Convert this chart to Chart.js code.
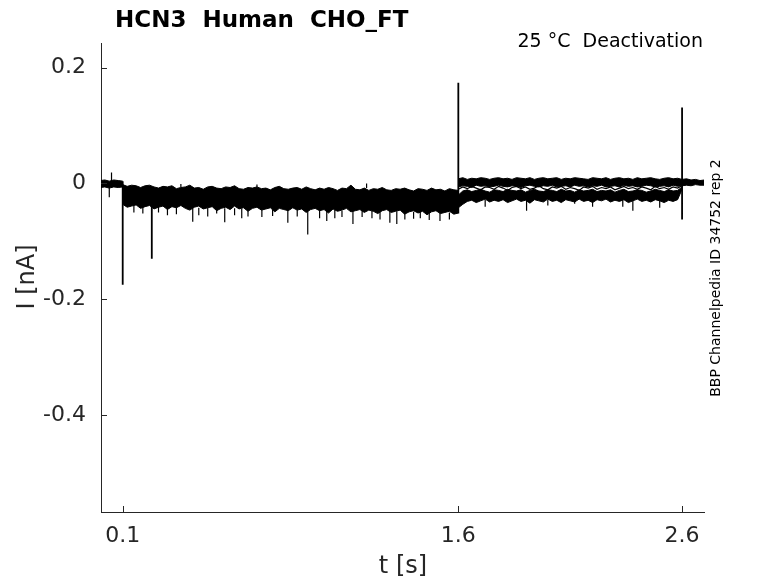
<!DOCTYPE html>
<html>
<head>
<meta charset="utf-8">
<script src="https://cdn.jsdelivr.net/npm/chart.js@4.4.1/dist/chart.umd.min.js"></script>
<style>
html,body{margin:0;padding:0;background:#fff;}
canvas{display:block;}
</style>
</head>
<body>
<canvas id="c" width="778" height="583"></canvas>
<script>
// ---- tick labels ----
const xTicks = [0.1, 1.6, 2.6];
const yTicks = [0.2, 0, -0.2, -0.4];

// ---- sampled envelopes of the overlaid sweeps (nA), sample step 0.02 s ----
const sampleStep = 0.02;

// holding period 0 .. 0.1 s
const preStart = 0.0;
const preTop = [0.005, 0.006, 0.004, 0.006, 0.005, 0.004];
const preBot = [-0.007, -0.006, -0.008, -0.006, -0.007, -0.006];

// test pulse 0.1 .. 1.6 s
const midStart = 0.10;
const midTop = [
 -0.002,-0.005,-0.003,-0.004,-0.007,-0.004,-0.003,-0.006,-0.008,-0.005,
 -0.006,-0.004,-0.009,-0.007,-0.006,-0.003,-0.008,-0.007,-0.010,-0.006,
 -0.005,-0.008,-0.009,-0.006,-0.007,-0.004,-0.009,-0.010,-0.007,-0.008,
 -0.006,-0.009,-0.008,-0.011,-0.007,-0.005,-0.009,-0.010,-0.008,-0.007,
 -0.010,-0.006,-0.009,-0.011,-0.008,-0.010,-0.007,-0.009,-0.012,-0.008,
 -0.009,-0.003,-0.010,-0.011,-0.008,-0.012,-0.009,-0.010,-0.007,-0.011,
 -0.012,-0.009,-0.010,-0.008,-0.011,-0.013,-0.009,-0.010,-0.012,-0.008,
 -0.011,-0.010,-0.013,-0.009,-0.011,-0.012];
const midBot = [
 -0.036,-0.041,-0.039,-0.037,-0.043,-0.040,-0.038,-0.044,-0.041,-0.039,
 -0.045,-0.040,-0.042,-0.038,-0.043,-0.046,-0.041,-0.039,-0.044,-0.042,
 -0.040,-0.047,-0.043,-0.041,-0.045,-0.039,-0.044,-0.042,-0.048,-0.043,
 -0.041,-0.046,-0.044,-0.042,-0.049,-0.043,-0.045,-0.047,-0.042,-0.046,
 -0.044,-0.050,-0.045,-0.043,-0.047,-0.045,-0.051,-0.044,-0.048,-0.046,
 -0.043,-0.049,-0.047,-0.045,-0.050,-0.046,-0.048,-0.052,-0.047,-0.045,
 -0.050,-0.048,-0.046,-0.053,-0.049,-0.047,-0.051,-0.048,-0.054,-0.049,
 -0.047,-0.052,-0.050,-0.048,-0.053,-0.051];

// tail 1.6 .. 2.7 s, upper group of sweeps
const upStart = 1.60;
const upTop = [
 0.008,0.010,0.007,0.009,0.008,0.010,0.009,0.007,0.009,0.010,
 0.008,0.009,0.007,0.010,0.009,0.008,0.010,0.007,0.009,0.010,
 0.008,0.009,0.010,0.007,0.009,0.008,0.010,0.009,0.008,0.007,
 0.010,0.009,0.008,0.010,0.007,0.009,0.010,0.008,0.009,0.007,
 0.010,0.008,0.009,0.010,0.008,0.007,0.009,0.010,0.008,0.009,
 0.007,0.008,0.006,0.007,0.005,0.006];
const upBot = [
 -0.006,-0.004,-0.005,-0.007,-0.003,-0.005,-0.004,-0.006,-0.005,-0.003,
 -0.005,-0.006,-0.004,-0.005,-0.007,-0.004,-0.003,-0.005,-0.006,-0.004,
 -0.005,-0.003,-0.006,-0.005,-0.004,-0.006,-0.003,-0.005,-0.004,-0.006,
 -0.004,-0.005,-0.003,-0.006,-0.005,-0.004,-0.006,-0.003,-0.005,-0.004,
 -0.006,-0.005,-0.003,-0.004,-0.006,-0.005,-0.004,-0.006,-0.003,-0.005,
 -0.004,-0.003,-0.004,-0.002,-0.003,-0.003];

// tail 1.6 .. 2.6 s, lower group of sweeps
const lowStart = 1.60;
const lowTop = [
 -0.020,-0.013,-0.011,-0.014,-0.012,-0.010,-0.013,-0.015,-0.011,-0.012,
 -0.014,-0.010,-0.012,-0.013,-0.011,-0.015,-0.012,-0.010,-0.013,-0.014,
 -0.011,-0.012,-0.014,-0.010,-0.013,-0.012,-0.015,-0.011,-0.013,-0.012,
 -0.010,-0.014,-0.012,-0.013,-0.011,-0.015,-0.012,-0.010,-0.014,-0.013,
 -0.011,-0.012,-0.015,-0.013,-0.010,-0.012,-0.014,-0.011,-0.013,-0.012,
 -0.006];
const lowBot = [
 -0.042,-0.036,-0.031,-0.029,-0.033,-0.030,-0.027,-0.032,-0.029,-0.031,
 -0.028,-0.033,-0.030,-0.027,-0.031,-0.029,-0.034,-0.028,-0.030,-0.032,
 -0.027,-0.031,-0.029,-0.033,-0.028,-0.030,-0.032,-0.027,-0.031,-0.029,
 -0.033,-0.028,-0.030,-0.027,-0.032,-0.029,-0.031,-0.028,-0.033,-0.030,
 -0.027,-0.031,-0.029,-0.032,-0.028,-0.030,-0.033,-0.029,-0.031,-0.028,
 -0.010];
// a sweep running between the two groups
const lowMid = [
 -0.010,-0.006,-0.009,-0.005,-0.008,-0.011,-0.006,-0.007,-0.010,-0.005,
 -0.008,-0.012,-0.007,-0.005,-0.009,-0.006,-0.010,-0.008,-0.004,-0.009,
 -0.011,-0.006,-0.008,-0.005,-0.010,-0.007,-0.009,-0.012,-0.006,-0.008,
 -0.005,-0.010,-0.007,-0.009,-0.006,-0.011,-0.008,-0.005,-0.009,-0.007,
 -0.010,-0.006,-0.008,-0.011,-0.005,-0.009,-0.007,-0.010,-0.006,-0.008,
 -0.004];

// large transients: time, start value, end value (nA)
const bigT    = [0.10,   0.23,   1.60,  2.60];
const bigFrom = [0.004, -0.035, -0.052, -0.062];
const bigTo   = [-0.175, -0.130, 0.174, 0.131];

// small noise spikes: time, start value, end value (nA)
const smallT    = [0.04,  0.05,  0.15,  0.19,  0.26,  0.30,  0.34,  0.413, 0.44,  0.48,  0.52,  0.556, 0.60,  0.632, 0.66,  0.722, 0.77,  0.838, 0.88,  0.927, 0.98,  1.012, 1.048, 1.08,  1.129, 1.17,  1.214, 1.25,  1.294, 1.325, 1.361, 1.40,  1.43,  1.47,  1.518, 1.56,  0.36,  0.70,  1.19,  1.72,  1.905, 2.00,  2.12,  2.20,  2.335, 2.38,  2.50];
const smallFrom = [-0.006, 0.004,-0.038,-0.040,-0.040,-0.040,-0.041,-0.042,-0.042,-0.042,-0.043,-0.043,-0.043,-0.044,-0.044,-0.044,-0.045,-0.045,-0.045,-0.046,-0.046,-0.046,-0.046,-0.047,-0.047,-0.047,-0.047,-0.048,-0.048,-0.048,-0.048,-0.049,-0.049,-0.049,-0.050,-0.050,-0.006,-0.007,-0.008,-0.028,-0.028,-0.028,-0.028,-0.028,-0.028,-0.028,-0.028];
const smallTo   = [-0.024, 0.019,-0.050,-0.052,-0.050,-0.055,-0.053,-0.066,-0.055,-0.057,-0.052,-0.067,-0.055,-0.060,-0.057,-0.058,-0.056,-0.068,-0.057,-0.088,-0.060,-0.065,-0.060,-0.058,-0.070,-0.058,-0.060,-0.062,-0.068,-0.070,-0.062,-0.061,-0.060,-0.063,-0.065,-0.062,-0.001,-0.002, 0.000,-0.040,-0.047,-0.038,-0.035,-0.040,-0.040,-0.047,-0.042];

function series(start, vals){
  return vals.map((v,i)=>({x: +(start + i*sampleStep).toFixed(4), y: v}));
}
function spikes(ts, from, to){
  const pts = [];
  ts.forEach((t,i)=>{
    pts.push({x:t, y:from[i]});
    pts.push({x:t, y:to[i]});
    pts.push({x:t, y:null});
  });
  return pts;
}

const K = '#000000';
function band(start, vals, fill){
  return {data: series(start, vals), borderColor:K, backgroundColor:K, borderWidth:1,
          pointRadius:0, tension:0, fill: fill};
}
function line(start, vals){
  return {data: series(start, vals), borderColor:K, borderWidth:1.2, pointRadius:0, tension:0, fill:false};
}

const decor = {
  id:'decor',
  afterDraw(chart){
    const {ctx, chartArea:a, scales:{x, y}} = chart;
    ctx.save();
    ctx.strokeStyle = '#262626';
    ctx.lineWidth = 1;
    ctx.beginPath();
    xTicks.forEach(v=>{
      const px = Math.round(x.getPixelForValue(v)) + 0.5;
      ctx.moveTo(px, a.bottom); ctx.lineTo(px, a.bottom - 6);
    });
    yTicks.forEach(v=>{
      const py = Math.round(y.getPixelForValue(v)) + 0.5;
      ctx.moveTo(a.left, py); ctx.lineTo(a.left + 6, py);
    });
    ctx.stroke();

    ctx.fillStyle = '#000';
    ctx.font = 'bold 23px "DejaVu Sans"';
    ctx.textAlign = 'left'; ctx.textBaseline = 'alphabetic';
    ctx.fillText('HCN3  Human  CHO_FT', 115, 27);

    ctx.font = '19px "DejaVu Sans"';
    ctx.textAlign = 'right';
    ctx.fillText('25 °C  Deactivation', 703, 47);

    ctx.fillStyle = '#262626';
    ctx.font = '24px "DejaVu Sans"';
    ctx.textAlign = 'center'; ctx.textBaseline = 'middle';
    ctx.fillText('t [s]', 403, 567);
    ctx.save();
    ctx.translate(28, 277);
    ctx.rotate(-Math.PI/2);
    ctx.fillText('I [nA]', 0, 0);
    ctx.restore();

    ctx.fillStyle = '#000';
    ctx.font = '14px "DejaVu Sans"';
    ctx.save();
    ctx.translate(716, 278);
    ctx.rotate(-Math.PI/2);
    ctx.fillText('BBP Channelpedia ID 34752 rep 2', 0, 0);
    ctx.restore();
    ctx.restore();
  }
};

Chart.defaults.font.family = '"DejaVu Sans"';

new Chart(document.getElementById('c'), {
  type: 'line',
  data: {
    datasets: [
      band(preStart, preTop, false),
      band(preStart, preBot, '-1'),
      band(midStart, midTop, false),
      band(midStart, midBot, '-1'),
      band(upStart, upTop, false),
      band(upStart, upBot, '-1'),
      band(lowStart, lowTop, false),
      band(lowStart, lowBot, '-1'),
      line(lowStart, lowMid),
      {data: spikes(smallT, smallFrom, smallTo), borderColor:K, borderWidth:1.2, pointRadius:0, tension:0, fill:false, spanGaps:false},
      {data: spikes(bigT, bigFrom, bigTo), borderColor:K, borderWidth:1.8, pointRadius:0, tension:0, fill:false, spanGaps:false}
    ]
  },
  options: {
    responsive: false,
    devicePixelRatio: 1,
    animation: false,
    events: [],
    layout: {padding: {left: 0, top: 43, right: 74, bottom: 0}},
    plugins: {legend: {display:false}, tooltip: {enabled:false}},
    scales: {
      x: {
        type: 'linear', min: 0.003, max: 2.698,
        grid: {display:false},
        border: {display:true, color:'#262626', width:1},
        ticks: {font:{size:22}, color:'#262626', padding:3, maxRotation:0, autoSkip:false,
                callback: v => String(v)},
        afterBuildTicks: s => { s.ticks = xTicks.map(v=>({value:v})); },
        afterFit: s => { s.height = 71; }
      },
      y: {
        type: 'linear', min: -0.567, max: 0.2424,
        grid: {display:false},
        border: {display:true, color:'#262626', width:1},
        ticks: {font:{size:22}, color:'#262626', padding:7, autoSkip:false,
                callback: v => String(v)},
        afterBuildTicks: s => { s.ticks = yTicks.map(v=>({value:v})); },
        afterFit: s => { s.width = 101; }
      }
    }
  },
  plugins: [decor]
});
</script>
</body>
</html>
